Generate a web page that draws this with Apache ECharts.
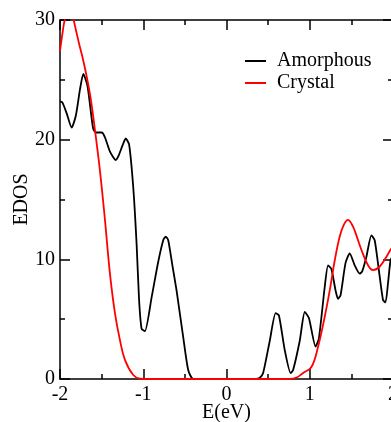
<!DOCTYPE html>
<html>
<head>
<meta charset="utf-8">
<script src="https://cdn.jsdelivr.net/npm/echarts@6/dist/echarts.min.js"></script>
<style>
  html, body { margin: 0; padding: 0; background: #fff; }
  #chart { width: 391px; height: 422px; }
</style>
</head>
<body>
<div id="chart"></div>
<script>
// E(eV), EDOS pairs
const amorphousE = [-2, -1.97, -1.92, -1.86, -1.81, -1.76, -1.72, -1.67, -1.62, -1.6, -1.57, -1.5, -1.46, -1.4, -1.33, -1.3, -1.25, -1.21, -1.17,
  -1.12, -1.08, -1.05, -1.02, -0.98, -0.9, -0.82, -0.76, -0.73, -0.7, -0.65, -0.6, -0.52, -0.46, -0.4,
  0, 0.35, 0.4, 0.44, 0.52, 0.59, 0.63, 0.7, 0.77, 0.8, 0.88, 0.94, 0.99, 1.07, 1.11, 1.18, 1.22, 1.26, 1.31, 1.34, 1.37,
  1.43, 1.48, 1.54, 1.6, 1.63, 1.68, 1.74, 1.78, 1.83, 1.88, 1.91, 1.94, 1.97, 2];
const amorphousDos = [23.2, 23.1, 22.2, 21.0, 22.0, 24.2, 25.5, 24.5, 21.8, 20.9, 20.6, 20.6, 20.2, 19.0, 18.3, 18.6, 19.5, 20.1, 19.6,
  16.0, 11.3, 6.6, 4.2, 4.0, 6.8, 9.8, 11.6, 11.9, 11.6, 9.5, 7.4, 3.5, 0.75, 0,
  0, 0, 0.1, 0.5, 3.2, 5.5, 5.3, 2.4, 0.5, 0.75, 3.2, 5.6, 5.1, 2.7, 3.4, 7.7, 9.5, 9.2, 7.4, 6.7, 7.0,
  9.7, 10.5, 9.5, 8.8, 9.0, 10.2, 12.0, 11.6, 9.1, 6.6, 6.4, 8.0, 9.9, 10.3];

const crystalE = [-2, -1.97, -1.94, -1.9, -1.86, -1.82, -1.77, -1.72, -1.64, -1.58, -1.52, -1.46, -1.4, -1.34, -1.28, -1.22, -1.12, -1.04, -0.95,
  0, 0.76, 0.85, 0.92, 1.02, 1.1, 1.18, 1.24, 1.3, 1.36, 1.41, 1.46, 1.5, 1.54, 1.62, 1.7, 1.76, 1.84, 1.92, 1.97, 2];
const crystalDos = [27.4, 28.9, 30.1, 30.8, 30.6, 29.5, 28.0, 26.6, 23.8, 20.8, 17.4, 13.3, 8.8, 5.5, 3.25, 1.6, 0.33, 0.03, 0,
  0, 0, 0.15, 0.5, 1.0, 2.7, 5.2, 7.4, 9.9, 11.9, 12.9, 13.3, 13.0, 12.4, 10.8, 9.5, 9.1, 9.4, 10.2, 10.8, 11.0];

const xTicks = [-2, -1, 0, 1, 2];
const yTicks = [0, 10, 20, 30];

const pair = (xs, ys) => xs.map((x, i) => [x, ys[i]]);
const font = 'Liberation Serif';

const chart = echarts.init(document.getElementById('chart'));

const baseX = {
  type: 'value',
  min: xTicks[0],
  max: xTicks[xTicks.length - 1],
  interval: 1,
  axisLine: { show: true, onZero: false, lineStyle: { color: '#000', width: 1.5 } },
  axisTick: { show: true, inside: true, length: 10, lineStyle: { color: '#000', width: 1.5 } },
  minorTick: { show: true, splitNumber: 2, length: 5, lineStyle: { color: '#000', width: 1.5 } },
  splitLine: { show: false },
};
const baseY = {
  type: 'value',
  min: yTicks[0],
  max: yTicks[yTicks.length - 1],
  interval: 10,
  axisLine: { show: true, onZero: false, lineStyle: { color: '#000', width: 1.5 } },
  axisTick: { show: true, inside: true, length: 10, lineStyle: { color: '#000', width: 1.5 } },
  minorTick: { show: true, splitNumber: 2, length: 5, lineStyle: { color: '#000', width: 1.5 } },
  splitLine: { show: false },
};

chart.setOption({
  animation: false,
  backgroundColor: '#fff',
  textStyle: { fontFamily: font },
  grid: { left: 60, right: -2, top: 20, bottom: 43, containLabel: false, outerBoundsMode: 'none' },
  legend: {
    orient: 'vertical',
    left: 240,
    top: 46,
    icon: 'rect',
    itemWidth: 21,
    itemHeight: 2,
    itemGap: 2,
    textStyle: { fontFamily: font, fontSize: 20, color: '#000', padding: [0, 0, 0, 6] },
    data: ['Amorphous', 'Crystal'],
  },
  xAxis: [
    {
      ...baseX,
      position: 'bottom',
      name: 'E(eV)',
      nameLocation: 'middle',
      nameGap: 24,
      nameMoveOverlap: false,
      nameTextStyle: { fontFamily: font, fontSize: 20, color: '#000' },
      axisLabel: { show: true, margin: 6, fontFamily: font, fontSize: 20, color: '#000' },
    },
    { ...baseX, position: 'top', axisLabel: { show: false } },
  ],
  yAxis: [
    {
      ...baseY,
      position: 'left',
      name: 'EDOS',
      nameLocation: 'middle',
      nameGap: 28,
      nameMoveOverlap: false,
      nameTextStyle: { fontFamily: font, fontSize: 20, color: '#000' },
      axisLabel: { show: true, margin: 5, fontFamily: font, fontSize: 20, color: '#000' },
    },
    { ...baseY, position: 'right', axisLabel: { show: false } },
  ],
  series: [
    {
      name: 'Amorphous',
      type: 'line',
      data: pair(amorphousE, amorphousDos),
      showSymbol: false,
      smooth: 0.2,
      color: '#000',
      lineStyle: { color: '#000', width: 1.8 },
      clip: true,
    },
    {
      name: 'Crystal',
      type: 'line',
      data: pair(crystalE, crystalDos),
      showSymbol: false,
      smooth: 0.4,
      color: '#ff0000',
      lineStyle: { color: '#ff0000', width: 1.8 },
      clip: true,
    },
  ],
});
</script>
</body>
</html>
